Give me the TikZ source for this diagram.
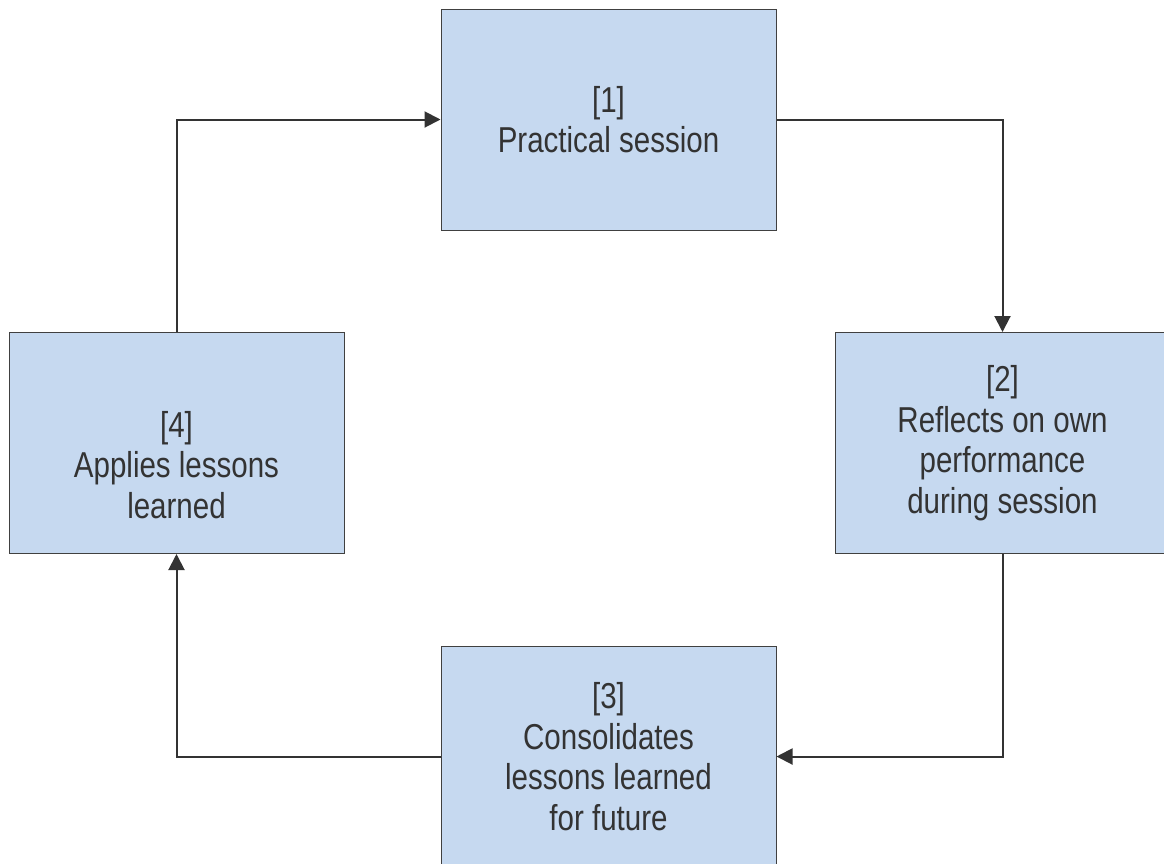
\documentclass[tikz,border=0pt]{standalone}
\usepackage{fontspec}
\setmainfont{Liberation Sans}[FakeStretch=0.82]
\usetikzlibrary{calc,arrows.meta}
\definecolor{boxfill}{HTML}{C6D9F0}
\definecolor{boxline}{HTML}{404040}
\definecolor{txtgray}{HTML}{333333}

\begin{document}
\begin{tikzpicture}[
      x=1pt, y=-1pt,
      every node/.style={font=\fontsize{36}{40.5}\selectfont, text=txtgray},
      B/.style={draw=boxline, line width=1pt, fill=boxfill, minimum width=335pt,
        minimum height=221pt, inner sep=0pt, align=center},
      T/.style={align=center, inner sep=0pt},
      flow/.style={->, draw=txtgray, line width=2pt},
      >={Triangle[length=16pt,width=16pt]},
    ]
    \useasboundingbox (0,0) rectangle (1164,863);
    \node[B] (b1) at (608.5,119.5) {[1]\\ Practical session};
    \node[B] (b2) at (1002.5,443) {[2]\\ Reflects on own\\ performance\\ during session};
    \node[B] (b3) at (608.5,756.5) {[3]\\ Consolidates\\ lessons learned\\ for future};
    \node[B] (b4) at (176.5,443) {};
    \node[T] (t4) at ($(b4.center)+(0,22)$) {[4]\\ Applies lessons\\ learned};

    % cycle
    \draw[flow] (b1.east) -| (b2.north);
    \draw[flow] (b2.south) |- (b3.east);
    \draw[flow] (b3.west) -| (b4.south);
    \draw[flow] (b4.north) |- (b1.west);
  \end{tikzpicture}
\end{document}
